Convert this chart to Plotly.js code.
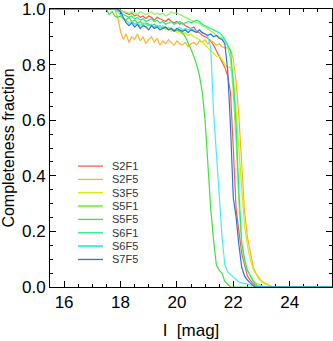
<!DOCTYPE html>
<html>
<head>
<meta charset="utf-8">
<script src="https://cdn.plot.ly/plotly-3.0.1.min.js"></script>
<style>
  html, body { margin: 0; padding: 0; background: #fff; }
  #grafica { width: 333px; height: 341px; }
</style>
</head>
<body>
<div id="grafica"></div>
<script>
const magnitudes = [
  15.5, 17.5, 17.6, 17.7, 17.8, 17.9, 18.0, 18.1, 18.2, 18.3,
  18.4, 18.5, 18.6, 18.7, 18.8, 18.9, 19.0, 19.1, 19.2, 19.3,
  19.4, 19.5, 19.6, 19.7, 19.8, 19.9, 20.0, 20.1, 20.2, 20.3,
  20.4, 20.5, 20.6, 20.7, 20.8, 20.9, 21.0, 21.1, 21.2, 21.3,
  21.4, 21.5, 21.6, 21.7, 21.8, 21.9, 22.0, 22.1, 22.2, 22.3,
  22.4, 22.5, 22.6, 22.7, 22.8, 22.9, 23.0, 23.1, 23.2, 23.3,
  23.4, 23.5, 25.5
];

const nombres = ['S2F1', 'S2F5', 'S3F5', 'S5F1', 'S5F5', 'S6F1', 'S6F5', 'S7F5'];
const colores = ['#ff5c3a', '#ffb22e', '#cfee00', '#8cf55a', '#3ee23e', '#1ef07c', '#45ecff', '#3170de'];

const ticksX = [16, 18, 20, 22, 24];
const ticksY = [0.0, 0.2, 0.4, 0.6, 0.8, 1.0];

const s2f1 = [
  1, 1, 1, 1, 1, 1, 0.995, 0.99, 0.985, 0.98,
  0.985, 0.975, 0.98, 0.97, 0.975, 0.965, 0.975, 0.97, 0.96, 0.97,
  0.965, 0.96, 0.955, 0.965, 0.955, 0.95, 0.955, 0.945, 0.95, 0.94,
  0.935, 0.93, 0.935, 0.92, 0.915, 0.905, 0.9, 0.895, 0.885, 0.87,
  0.85, 0.83, 0.81, 0.79, 0.76, 0.7, 0.5, 0.28, 0.2, 0.12,
  0.08, 0.04, 0.025, 0.012, 0.005, 0, 0, 0, 0, 0,
  0, 0, 0
];
const s2f5 = [
  1, 1, 1, 1, 1, 0.97, 0.92, 0.89, 0.91, 0.88,
  0.9, 0.89, 0.91, 0.885, 0.9, 0.875, 0.89, 0.9, 0.88, 0.895,
  0.87, 0.885, 0.875, 0.89, 0.88, 0.87, 0.885, 0.875, 0.87, 0.88,
  0.865, 0.875, 0.88, 0.87, 0.885, 0.88, 0.89, 0.875, 0.885, 0.88,
  0.87, 0.875, 0.865, 0.86, 0.86, 0.855, 0.82, 0.74, 0.61, 0.45,
  0.27, 0.18, 0.12, 0.075, 0.05, 0.035, 0.022, 0.015, 0.01, 0.005,
  0, 0, 0
];
const s3f5 = [
  1, 1, 1, 1, 1, 0.99, 0.98, 0.965, 0.96, 0.95,
  0.955, 0.945, 0.95, 0.94, 0.945, 0.935, 0.945, 0.94, 0.93, 0.94,
  0.93, 0.935, 0.925, 0.93, 0.92, 0.925, 0.915, 0.92, 0.91, 0.915,
  0.905, 0.91, 0.9, 0.895, 0.89, 0.88, 0.87, 0.86, 0.85, 0.84,
  0.83, 0.83, 0.82, 0.8, 0.79, 0.79, 0.75, 0.63, 0.5, 0.36,
  0.22, 0.15, 0.1, 0.065, 0.045, 0.03, 0.02, 0.012, 0.008, 0.003,
  0, 0, 0
];
const s5f1 = [
  1, 1, 1, 1, 1, 1, 0.995, 0.99, 0.99, 0.985,
  0.99, 0.985, 0.98, 0.99, 0.985, 0.98, 0.985, 0.99, 0.98, 0.985,
  0.98, 0.985, 0.975, 0.98, 0.99, 0.985, 0.985, 0.98, 0.975, 0.97,
  0.965, 0.96, 0.955, 0.95, 0.95, 0.94, 0.935, 0.93, 0.92, 0.915,
  0.905, 0.9, 0.895, 0.885, 0.87, 0.82, 0.7, 0.52, 0.3, 0.15,
  0.09, 0.06, 0.04, 0.025, 0.015, 0.008, 0.004, 0, 0, 0,
  0, 0, 0
];
const s5f5 = [
  1, 1, 0.98, 0.99, 0.975, 0.97, 0.975, 0.965, 0.96, 0.97,
  0.955, 0.96, 0.95, 0.955, 0.945, 0.95, 0.945, 0.94, 0.945, 0.935,
  0.94, 0.93, 0.935, 0.925, 0.93, 0.92, 0.925, 0.92, 0.915, 0.9,
  0.88, 0.855, 0.83, 0.8, 0.76, 0.7, 0.6, 0.45, 0.28, 0.17,
  0.08, 0.06, 0.05, 0.02, 0.01, 0, 0, 0, 0, 0,
  0, 0, 0, 0, 0, 0, 0, 0, 0, 0,
  0, 0, 0
];
const s6f1 = [
  1, 1, 1, 1, 1, 0.995, 0.99, 0.98, 0.975, 0.97,
  0.975, 0.965, 0.97, 0.96, 0.965, 0.955, 0.96, 0.965, 0.955, 0.96,
  0.95, 0.955, 0.945, 0.95, 0.955, 0.945, 0.95, 0.955, 0.945, 0.95,
  0.955, 0.95, 0.955, 0.96, 0.955, 0.945, 0.94, 0.935, 0.93, 0.925,
  0.92, 0.915, 0.905, 0.89, 0.87, 0.85, 0.74, 0.58, 0.34, 0.16,
  0.1, 0.06, 0.04, 0.02, 0.01, 0, 0, 0, 0, 0,
  0, 0, 0
];
const s6f5 = [
  1, 1, 1, 1, 1, 0.99, 0.98, 0.965, 0.955, 0.95,
  0.955, 0.945, 0.95, 0.94, 0.95, 0.945, 0.94, 0.945, 0.935, 0.94,
  0.935, 0.94, 0.93, 0.935, 0.93, 0.925, 0.93, 0.935, 0.925, 0.93,
  0.925, 0.93, 0.925, 0.92, 0.925, 0.915, 0.91, 0.9, 0.86, 0.63,
  0.48, 0.33, 0.18, 0.08, 0.055, 0.045, 0.035, 0.025, 0.018, 0.015,
  0.012, 0.01, 0.008, 0.006, 0.005, 0.003, 0.002, 0, 0, 0,
  0, 0, 0
];
const s7f5 = [
  1, 1, 1, 1, 1, 1, 0.99, 0.97, 0.95, 0.94,
  0.95, 0.935, 0.945, 0.93, 0.94, 0.935, 0.925, 0.94, 0.93, 0.935,
  0.925, 0.93, 0.935, 0.925, 0.93, 0.92, 0.93, 0.925, 0.92, 0.925,
  0.915, 0.925, 0.92, 0.915, 0.925, 0.915, 0.91, 0.905, 0.91, 0.9,
  0.905, 0.895, 0.89, 0.875, 0.78, 0.58, 0.32, 0.25, 0.15, 0.07,
  0.04, 0.025, 0.015, 0.005, 0, 0, 0, 0, 0, 0,
  0, 0, 0
];

const series = [s2f1, s2f5, s3f5, s5f1, s5f5, s6f1, s6f5, s7f5];

const fuente = 'Liberation Sans, Arial, sans-serif';

const trazas = series.map((valores, i) => ({
  x: magnitudes,
  y: valores,
  type: 'scatter',
  mode: 'lines',
  name: nombres[i],
  line: { color: colores[i], width: 1.2 },
  showlegend: false
}));

// leyenda dibujada a mano para tener el espaciado compacto del original
const leyendaX0 = 0.099, leyendaX1 = 0.188, leyendaTexto = 0.213;
const leyendaY0 = 0.435, leyendaPaso = 0.048;

const shapes = nombres.map((n, i) => ({
  type: 'line',
  xref: 'paper', yref: 'paper',
  x0: leyendaX0, x1: leyendaX1,
  y0: leyendaY0 - i * leyendaPaso, y1: leyendaY0 - i * leyendaPaso,
  line: { color: colores[i], width: (n === 'S5F1' || n === 'S6F5') ? 2.2 : 1.3 }
}));

const annotations = nombres.map((n, i) => ({
  xref: 'paper', yref: 'paper',
  x: leyendaTexto, y: leyendaY0 - i * leyendaPaso,
  xanchor: 'left', yanchor: 'middle',
  text: n,
  showarrow: false,
  font: { family: fuente, size: 11, color: '#333' }
}));

const ejeComun = {
  showline: true,
  linecolor: '#000',
  linewidth: 1,
  mirror: 'ticks',
  ticks: 'inside',
  ticklen: 6,
  tickcolor: '#000',
  showgrid: false,
  zeroline: false,
  layer: 'below traces',
  ticklabeloverflow: 'allow',
  tickfont: { family: fuente, size: 17, color: '#000' }
};

const layout = {
  width: 333,
  height: 341,
  margin: { l: 50, r: 1, t: 9, b: 54 },
  paper_bgcolor: '#fff',
  plot_bgcolor: '#fff',
  font: { family: fuente, color: '#000' },
  xaxis: {
    ...ejeComun,
    range: [15.5, 25.5],
    tickmode: 'array',
    tickvals: ticksX,
    minor: { dtick: 0.5, tick0: 16, ticklen: 3, ticks: 'inside', tickcolor: '#000' },
    title: { text: 'I  [mag]', font: { family: fuente, size: 17 }, standoff: 12 }
  },
  yaxis: {
    ...ejeComun,
    range: [0, 1],
    tickmode: 'array',
    tickvals: ticksY,
    tickformat: '.1f',
    minor: { dtick: 0.05, tick0: 0, ticklen: 3, ticks: 'inside', tickcolor: '#000' },
    title: { text: 'Completeness fraction', font: { family: fuente, size: 16 }, standoff: 6 }
  },
  shapes: shapes,
  annotations: annotations
};

Plotly.newPlot('grafica', trazas, layout, { displayModeBar: false, staticPlot: true });
</script>
</body>
</html>
